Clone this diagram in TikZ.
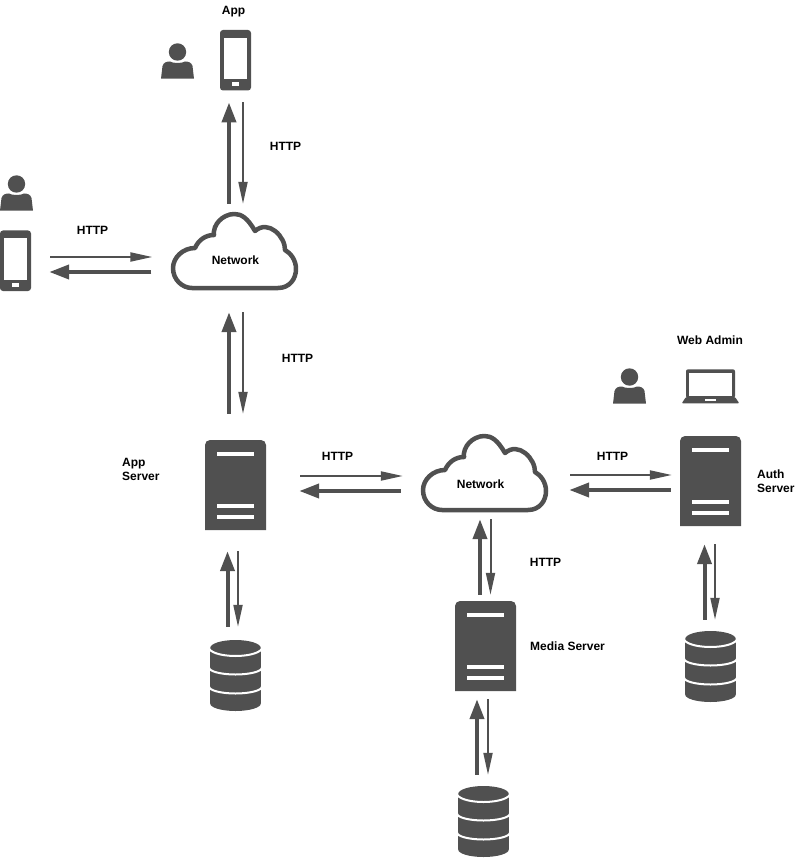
\documentclass[tikz,border=0pt]{standalone}
\usepackage{fontspec}
\setmainfont{Liberation Sans}
\usetikzlibrary{arrows.meta}
\definecolor{ink}{HTML}{505050}
\tikzset{
  x=1pt,y=-1pt,
  lbl/.style={font=\fontsize{12}{14}\selectfont\bfseries,inner sep=0pt,text=black,align=left},
  box/.style={inner sep=0pt,minimum width=#1},
  thinarr/.style={draw=ink,line width=2pt,-{Triangle[length=22pt,width=9pt]}},
  thickarr/.style={draw=ink,line width=4pt,-{Triangle[length=20pt,width=14pt]}},
  serverpic/.pic={
    \fill[ink] (-30.5,45) -- (-30.5,-40) [rounded corners=0pt] arc[start angle=180,end angle=90,radius=5pt]
      -- (25.5,-45) arc[start angle=90,end angle=0,radius=5pt] -- (30.5,45) -- cycle;
    \fill[white] (-18.5,-33) rectangle (18.5,-29);
    \fill[white] (-18.5,19) rectangle (18.5,23);
    \fill[white] (-18.5,30) rectangle (18.5,34);
  },
  phonepic/.pic={
    \fill[ink,rounded corners=3pt] (-15.5,-30) rectangle (15.5,30.5);
    \fill[white] (-11.8,-22.3) rectangle (11.8,19.3);
    \fill[white] (-3.2,22) rectangle (3.2,26);
  },
  personpic/.pic={
    \fill[ink] (0,-9) circle[radius=8.7pt];
    \fill[ink] (-16.5,17.7) -- (-15,5) .. controls (-14,1.5) and (-11,0.5) .. (-7.5,0.5)
      .. controls (-5,2.5) and (5,2.5) .. (7.5,0.5) .. controls (11,0.5) and (14,1.5) .. (15,5) -- (16.5,17.7) -- cycle;
  },
  laptoppic/.pic={
    \fill[ink,rounded corners=2pt] (-24.5,-16.7) rectangle (24.5,12);
    \fill[white] (-21.2,-13.3) rectangle (21.2,10);
    \fill[ink,rounded corners=1pt] (-28.8,17.3) -- (-24.5,11) -- (24.5,11) -- (28.8,17.3) -- cycle;
    \fill[white] (-5.5,12.8) rectangle (5.5,15);
  },
  cloudpic/.pic={
    \draw[ink,line width=4.5pt,fill=white,line join=round] (-43.5,37) -- (42.5,37)
      .. controls (54,37) and (60.5,28) .. (60.5,18)
      .. controls (60.5,9) and (55,2) .. (49.5,-1)
      .. controls (50,-14) and (33,-32) .. (19.5,-20)
      .. controls (12,-33) and (6,-37) .. (-1,-37)
      .. controls (-13,-37) and (-23,-26) .. (-21.5,-16)
      .. controls (-30,-16) and (-37,-11) .. (-40.5,-3)
      .. controls (-53,-3) and (-62.5,7) .. (-62.5,17)
      .. controls (-62.5,29) and (-53,37) .. (-43.5,37) -- cycle;
  },
  dbpic/.pic={
    \fill[ink] (-25.3,-27.5) arc[start angle=180,end angle=0,x radius=25.3pt,y radius=8pt]
      -- (25.3,28) arc[start angle=0,end angle=-180,x radius=25.3pt,y radius=7.5pt] -- cycle;
    \draw[white,line width=2pt] (-26.5,-28) arc[start angle=180,end angle=360,x radius=26.5pt,y radius=8.5pt];
    \draw[white,line width=2pt] (-26.5,-8) arc[start angle=180,end angle=360,x radius=26.5pt,y radius=7pt];
    \draw[white,line width=2pt] (-26.5,11) arc[start angle=180,end angle=360,x radius=26.5pt,y radius=7pt];
  },
}
\begin{document}
\begin{tikzpicture}
\useasboundingbox (0,0) rectangle (806,858);
% icon nodes
\node[box=31pt,minimum height=60.5pt] (phoneA) at (235.5,60) {};
\node[box=31pt,minimum height=60.5pt] (phoneB) at (15.5,260.5) {};
\node[box=33pt,minimum height=36pt] (personA) at (177.5,61) {};
\node[box=33pt,minimum height=36pt] (personB) at (16.5,193) {};
\node[box=33pt,minimum height=36pt] (personC) at (629.5,386) {};
\node[box=58pt,minimum height=34pt] (laptop) at (710.5,386) {};
\node[box=126pt,minimum height=78pt] (netA) at (235.5,251) {};
\node[box=126pt,minimum height=78pt] (netB) at (485.5,473) {};
\node[box=61pt,minimum height=90pt] (srvApp) at (235.5,485) {};
\node[box=61pt,minimum height=90pt] (srvAuth) at (710.5,481) {};
\node[box=61pt,minimum height=90pt] (srvMedia) at (485.5,646) {};
\node[box=51pt,minimum height=71pt] (dbA) at (235.5,675.5) {};
\node[box=51pt,minimum height=71pt] (dbB) at (483.5,821.5) {};
\node[box=51pt,minimum height=71pt] (dbC) at (710.5,666.5) {};
% icon drawings
\path (phoneA) pic {phonepic};
\path (phoneB) pic {phonepic};
\path (personA) pic {personpic};
\path (personB) pic {personpic};
\path (personC) pic {personpic};
\path (laptop) pic {laptoppic};
\path (netA) pic {cloudpic};
\path (netB) pic {cloudpic};
\path (srvApp) pic {serverpic};
\path (srvAuth) pic {serverpic};
\path (srvMedia) pic {serverpic};
\path (dbA) pic {dbpic};
\path (dbB) pic {dbpic};
\path (dbC) pic {dbpic};
% connectors
\draw[thickarr,shorten <=8pt,shorten >=12pt] ([xshift=-6.5pt]netA.north) -- ([xshift=-6.5pt]phoneA.south);
\draw[thinarr,shorten <=12pt,shorten >=8pt] ([xshift=7.5pt]phoneA.south) -- ([xshift=7.5pt]netA.north);
\draw[thinarr,shorten <=19pt,shorten >=20pt] ([yshift=3.5pt]phoneB.east) -- ([yshift=-6pt]netA.west);
\draw[thickarr,shorten <=21pt,shorten >=18pt] ([yshift=-21pt]netA.west) -- ([yshift=-11.5pt]phoneB.east);
\draw[thickarr,shorten <=26pt,shorten >=22pt] ([xshift=-6.5pt]srvApp.north) -- ([xshift=-6.5pt]netA.south);
\draw[thinarr,shorten <=22pt,shorten >=26pt] ([xshift=7.5pt]netA.south) -- ([xshift=7.5pt]srvApp.north);
\draw[thinarr,shorten <=34pt,shorten >=19.5pt] ([yshift=9pt]srvApp.east) -- ([yshift=-3pt]netB.west);
\draw[thickarr,shorten <=21.5pt,shorten >=33pt] ([yshift=-18pt]netB.west) -- ([yshift=-6pt]srvApp.east);
\draw[thinarr,shorten <=21.5pt,shorten >=8pt] ([yshift=-2pt]netB.east) -- ([yshift=6pt]srvAuth.west);
\draw[thickarr,shorten <=9pt,shorten >=20.5pt] ([yshift=-9pt]srvAuth.west) -- ([yshift=-17pt]netB.east);
\draw[thickarr,shorten <=6pt,shorten >=7pt] ([xshift=-5.5pt]srvMedia.north) -- ([xshift=-5.5pt]netB.south);
\draw[thinarr,shorten <=7pt,shorten >=6pt] ([xshift=5pt]netB.south) -- ([xshift=5pt]srvMedia.north);
\draw[thickarr,shorten <=13pt,shorten >=21pt] ([xshift=-8pt]dbA.north) -- ([xshift=-8pt]srvApp.south);
\draw[thinarr,shorten <=21pt,shorten >=13pt] ([xshift=2.5pt]srvApp.south) -- ([xshift=2.5pt]dbA.north);
\draw[thickarr,shorten <=11pt,shorten >=8pt] ([xshift=-6.5pt]dbB.north) -- ([xshift=-8.5pt]srvMedia.south);
\draw[thinarr,shorten <=8pt,shorten >=11pt] ([xshift=2.5pt]srvMedia.south) -- ([xshift=4.5pt]dbB.north);
\draw[thickarr,shorten <=11pt,shorten >=18pt] ([xshift=-6pt]dbC.north) -- ([xshift=-6pt]srvAuth.south);
\draw[thinarr,shorten <=18pt,shorten >=11pt] ([xshift=4.5pt]srvAuth.south) -- ([xshift=4.5pt]dbC.north);
% labels
\node[lbl] (lApp) at (233.5,11.5) {App};
\node[lbl] (lNetA) at (235.5,260.5) {Network};
\node[lbl] (lNetB) at (480.5,484.5) {Network};
\node[lbl] (h1) at (285.5,146.5) {HTTP};
\node[lbl] (h2) at (92.5,230.5) {HTTP};
\node[lbl] (h3) at (297.5,358.5) {HTTP};
\node[lbl] (h4) at (337.5,456.5) {HTTP};
\node[lbl] (h5) at (612.5,456.5) {HTTP};
\node[lbl] (h6) at (545.5,562.5) {HTTP};
\node[lbl,anchor=west] (lAppSrv) at (122,469.5) {App\\Server};
\node[lbl,anchor=west] (lAuth) at (757,481.5) {Auth\\Server};
\node[lbl,anchor=west] (lMedia) at (530,646.5) {Media Server};
\node[lbl] (lAdmin) at (710,340.5) {Web Admin};
\end{tikzpicture}
\end{document}
